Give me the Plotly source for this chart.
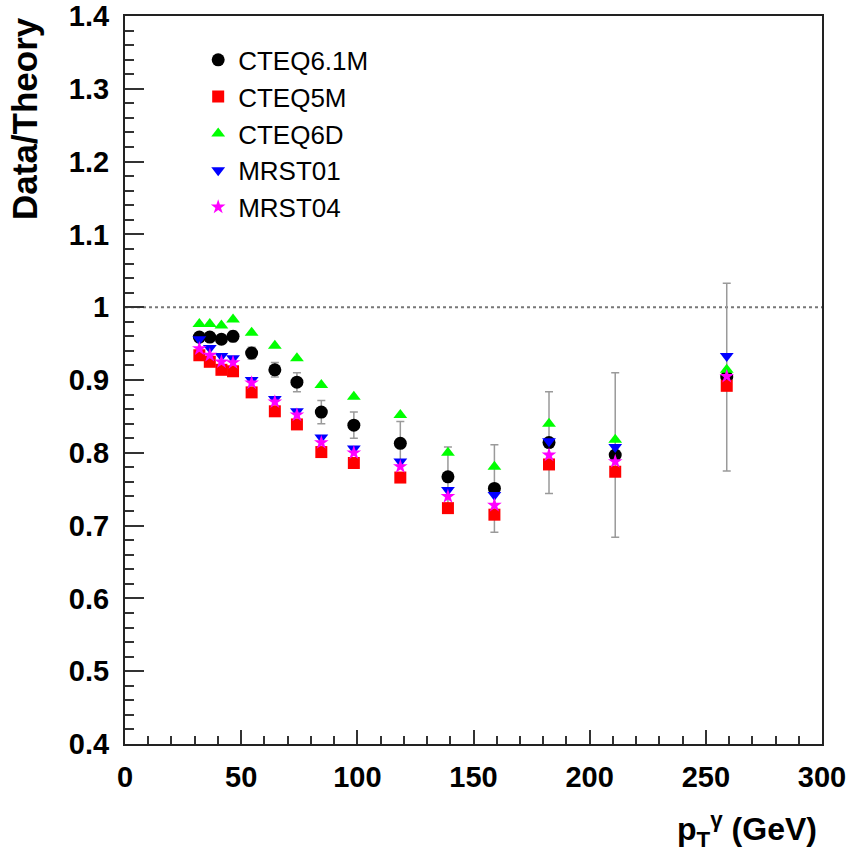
import plotly.graph_objects as go

# ---- data ----
pt = [32, 36.5, 41.5, 46.5, 54.5, 64.5, 74, 84.5, 98.5, 118.5, 139, 159, 182.5, 211, 259]
cteq61m = [0.959, 0.959, 0.956, 0.960, 0.937, 0.914, 0.897, 0.856, 0.838, 0.813, 0.767, 0.751, 0.814, 0.797, 0.904]
cteq61m_err = [0.006, 0.006, 0.006, 0.007, 0.008, 0.010, 0.013, 0.016, 0.018, 0.030, 0.041, 0.060, 0.070, 0.113, 0.129]
cteq5m = [0.934, 0.925, 0.914, 0.912, 0.883, 0.857, 0.839, 0.801, 0.786, 0.766, 0.724, 0.715, 0.784, 0.774, 0.892]
cteq6d = [0.977, 0.977, 0.975, 0.983, 0.965, 0.947, 0.930, 0.893, 0.877, 0.852, 0.800, 0.781, 0.840, 0.818, 0.914]
mrst01 = [0.956, 0.944, 0.933, 0.930, 0.900, 0.874, 0.857, 0.821, 0.806, 0.788, 0.749, 0.742, 0.816, 0.808, 0.933]
mrst04 = [0.943, 0.934, 0.925, 0.924, 0.896, 0.870, 0.852, 0.814, 0.800, 0.781, 0.740, 0.728, 0.797, 0.788, 0.905]

x_ticks = [0, 50, 100, 150, 200, 250, 300]
y_ticks = [0.4, 0.5, 0.6, 0.7, 0.8, 0.9, 1.0, 1.1, 1.2, 1.3, 1.4]
y_tick_text = ["0.4", "0.5", "0.6", "0.7", "0.8", "0.9", "1", "1.1", "1.2", "1.3", "1.4"]

FONT = "Liberation Sans, Arial, Helvetica, sans-serif"

fig = go.Figure()
fig.add_trace(go.Scatter(
    x=pt, y=cteq61m, mode="markers", name="CTEQ6.1M",
    marker=dict(symbol="circle", size=13, color="#000000"),
    error_y=dict(type="data", array=cteq61m_err, color="#9a9a9a", thickness=1.5, width=4),
))
fig.add_trace(go.Scatter(
    x=pt, y=cteq5m, mode="markers", name="CTEQ5M",
    marker=dict(symbol="square", size=12, color="#ff0000"),
))
fig.add_trace(go.Scatter(
    x=pt, y=cteq6d, mode="markers", name="CTEQ6D",
    marker=dict(symbol="triangle-up", size=12, color="#00ff00"),
))
fig.add_trace(go.Scatter(
    x=pt, y=mrst01, mode="markers", name="MRST01",
    marker=dict(symbol="triangle-down", size=12, color="#0000ff"),
))
fig.add_trace(go.Scatter(
    x=pt, y=mrst04, mode="markers", name="MRST04",
    marker=dict(symbol="star", size=11, color="#ff00ff"),
))

# dotted reference line at 1
fig.add_shape(type="line", xref="paper", yref="y", x0=0, x1=1, y0=1, y1=1,
              line=dict(color="#777777", width=2, dash="dot"), layer="below")

fig.update_layout(
    width=850, height=851,
    margin=dict(l=125, r=28, t=16, b=107, autoexpand=False),
    paper_bgcolor="white", plot_bgcolor="white",
    font=dict(family=FONT, color="black"),
    showlegend=True,
    legend=dict(
        x=0.105, y=0.972, xanchor="left", yanchor="top",
        bgcolor="rgba(0,0,0,0)", borderwidth=0,
        font=dict(size=26, family=FONT, color="black"),
        itemsizing="trace",
    ),
    xaxis=dict(
        range=[0, 300], tickvals=x_ticks, ticks="inside", ticklen=14, tickwidth=1.5,
        tickcolor="#333333", showline=True, linecolor="#222222", linewidth=2, mirror=True,
        showgrid=False, zeroline=False, automargin=False,
        tickfont=dict(size=29, family=FONT, weight="bold"), ticklabelstandoff=6,
        minor=dict(dtick=10, ticks="inside", ticklen=8, tickwidth=1.5, tickcolor="#333333", showgrid=False),
    ),
    yaxis=dict(
        range=[0.4, 1.4], tickvals=y_ticks, ticktext=y_tick_text, ticks="inside", ticklen=19,
        tickwidth=1.5, tickcolor="#333333", showline=True, linecolor="#222222", linewidth=2,
        mirror=True, showgrid=False, zeroline=False, automargin=False,
        tickfont=dict(size=29, family=FONT, weight="bold"), ticklabelstandoff=8,
        minor=dict(dtick=0.02, ticks="inside", ticklen=9, tickwidth=1.5, tickcolor="#333333", showgrid=False),
    ),
)

# y axis title (top aligned, as in the reference)
fig.add_annotation(
    text="Data/Theory", xref="paper", yref="paper", x=-0.145, y=1.002,
    xanchor="center", yanchor="top", textangle=-90, showarrow=False,
    font=dict(size=35, family=FONT, weight="bold", color="black"),
)
# x axis title (right aligned)
fig.add_annotation(
    text="p<sub>T</sub><sup>γ</sup> (GeV)", xref="paper", yref="paper", x=0.9957, y=-0.118,
    xanchor="right", yanchor="middle", showarrow=False,
    font=dict(size=32, family=FONT, weight="bold", color="black"),
)

fig.write_html("out.html")
